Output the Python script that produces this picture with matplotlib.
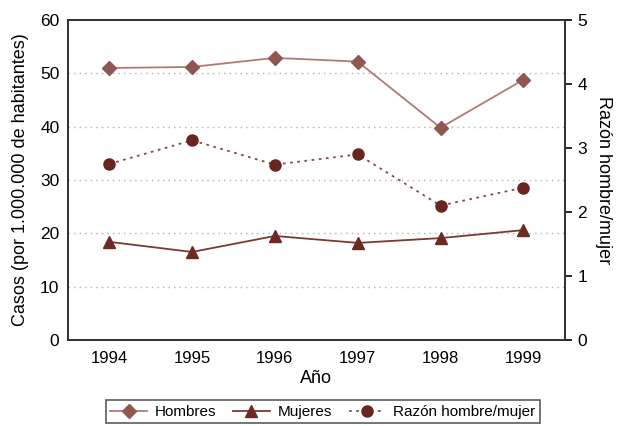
import matplotlib
matplotlib.use('Agg')
import matplotlib.pyplot as plt

plt.rcParams['font.family'] = ['Liberation Sans', 'DejaVu Sans']

years = ['1994', '1995', '1996', '1997', '1998', '1999']
hombres = [51.0, 51.2, 52.9, 52.2, 39.8, 48.8]
mujeres = [18.4, 16.5, 19.5, 18.2, 19.1, 20.6]
razon = [2.75, 3.12, 2.74, 2.90, 2.10, 2.38]

x = list(range(len(years)))

fig = plt.figure(figsize=(6.22, 4.26), dpi=100)
ax = fig.add_axes([0.109, 0.202, 0.799, 0.751])
ax2 = ax.twinx()

# grid lines on the left scale
for v in [10, 20, 30, 40, 50]:
    ax.axhline(v, color='#b0b0b0', linestyle=(0, (1, 3)), linewidth=1, zorder=0)

l1, = ax.plot(x, hombres, color='#b07a74', marker='D', markersize=7,
              markerfacecolor='#8e5850', markeredgecolor='#8e5850', linewidth=1.3)
l2, = ax.plot(x, mujeres, color='#7a3a30', marker='^', markersize=8,
              markerfacecolor='#6e2a22', markeredgecolor='#6e2a22', linewidth=1.3)
l3, = ax2.plot(x, razon, color='#8a4a44', marker='o', markersize=8, linestyle=(0, (1.5, 2.5)),
               markerfacecolor='#6a2520', markeredgecolor='#6a2520', linewidth=1.3)

ax.set_xlim(-0.5, 5.5)
ax.set_ylim(0, 60)
ax2.set_ylim(0, 5)
ax.set_yticks([0, 10, 20, 30, 40, 50, 60])
ax2.set_yticks([0, 1, 2, 3, 4, 5])
ax.set_xticks(x)
ax.set_xticklabels(years)

ax.tick_params(axis='x', length=0, labelsize=12, pad=8)
ax.tick_params(axis='y', length=0, labelsize=12.5, pad=6)
ax2.tick_params(axis='y', length=5, width=1.2, labelsize=12.5, pad=4)

for a in (ax, ax2):
    for s in a.spines.values():
        s.set_color('#333333')
        s.set_linewidth(1.3)

ax.set_xlabel('Año', fontsize=13, labelpad=3)
ax.set_ylabel('Casos (por 1.000.000 de habitantes)', fontsize=13, labelpad=8)
ax2.set_ylabel('Razón hombre/mujer', fontsize=13, rotation=270, labelpad=18)

leg = fig.legend([l1, l2, l3], ['Hombres', 'Mujeres', 'Razón hombre/mujer'],
                 loc='lower center', bbox_to_anchor=(0.519, -0.012), ncol=3, fontsize=11,
                 frameon=True, fancybox=False, edgecolor='#333333',
                 handlelength=2.4, handletextpad=0.5, columnspacing=1.1, borderpad=0.3)
leg.get_frame().set_linewidth(1.2)

fig.savefig('out.png', dpi=100)
